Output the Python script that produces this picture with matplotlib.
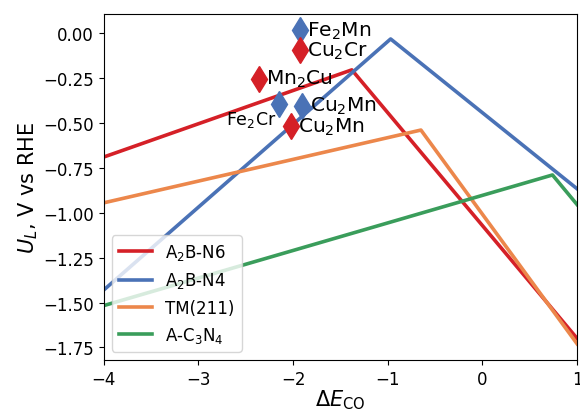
import matplotlib
matplotlib.use("Agg")
import matplotlib.pyplot as plt

# volcano lines (piecewise: start, peak, end)
n6_x = [-4.0, -1.38, 1.0]
n6_y = [-0.69, -0.205, -1.70]
n4_x = [-4.0, -0.97, 1.0]
n4_y = [-1.43, -0.033, -0.867]
tm_x = [-4.0, -0.65, 1.0]
tm_y = [-0.945, -0.54, -1.73]
c3n4_x = [-4.0, 0.74, 1.0]
c3n4_y = [-1.517, -0.79, -0.955]

# points
blue_names = ["Fe$_2$Mn", "Fe$_2$Cr", "Cu$_2$Mn"]
blue_x = [-1.93, -2.15, -1.91]
blue_y = [0.017, -0.394, -0.405]
red_names = ["Cu$_2$Cr", "Mn$_2$Cu", "Cu$_2$Mn"]
red_x = [-1.93, -2.36, -2.02]
red_y = [-0.094, -0.255, -0.517]

RED = "#d52027"
BLUE = "#4a72b6"
ORANGE = "#ec874b"
GREEN = "#3a9d5b"

plt.rcParams["font.size"] = 12
fig = plt.figure(figsize=(5.8, 4.1), dpi=100)
ax = fig.add_axes([0.179, 0.1195, 0.816, 0.8435])

lw = 2.6
ax.plot(n6_x, n6_y, color=RED, lw=lw, label="A$_2$B-N6")
ax.plot(n4_x, n4_y, color=BLUE, lw=lw, label="A$_2$B-N4")
ax.plot(tm_x, tm_y, color=ORANGE, lw=lw, label="TM(211)")
ax.plot(c3n4_x, c3n4_y, color=GREEN, lw=lw, label="A-C$_3$N$_4$")

ax.plot(blue_x, blue_y, "d", color=BLUE, ms=13, ls="none")
ax.plot(red_x, red_y, "d", color=RED, ms=13, ls="none")

offs_blue = [(5, 0, "left", 14.5), (-1.5, -11, "right", 12.5), (6, 0, "left", 14.5)]
for n, x, y, (dx, dy, ha, fs) in zip(blue_names, blue_x, blue_y, offs_blue):
    ax.annotate(n, (x, y), xytext=(dx, dy), textcoords="offset points",
                ha=ha, va="center", fontsize=fs)
offs_red = [(5, 0, "left"), (5, 0, "left"), (5, 0, "left")]
for n, x, y, (dx, dy, ha) in zip(red_names, red_x, red_y, offs_red):
    ax.annotate(n, (x, y), xytext=(dx, dy), textcoords="offset points",
                ha=ha, va="center", fontsize=14.5)

ax.set_xlim(-4, 1)
ax.set_ylim(-1.82, 0.105)
ax.set_yticks([0.0, -0.25, -0.5, -0.75, -1.0, -1.25, -1.5, -1.75])
ax.set_xticks([-4, -3, -2, -1, 0, 1])
ax.set_xlabel(r"$\Delta E_{\rm CO}$", fontsize=15, labelpad=0)
ax.set_ylabel(r"$U_L$, V vs RHE", fontsize=15, labelpad=2)
ax.legend(loc="lower left", fontsize=12, handlelength=2.0)

fig.savefig("out.png", dpi=100)
